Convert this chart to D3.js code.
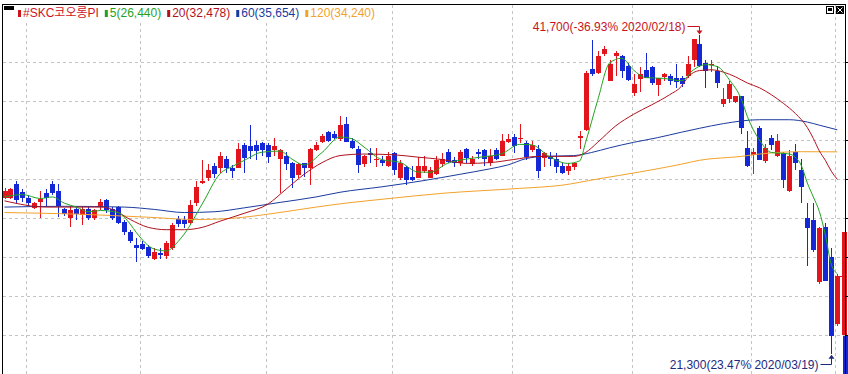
<!DOCTYPE html>
<html>
<head>
<meta charset="utf-8">
<script src="https://cdn.jsdelivr.net/npm/d3@7/dist/d3.min.js"></script>
<style>
  html, body { margin: 0; padding: 0; background: #fff; }
  svg { display: block; }
  text { font-family: "Liberation Sans", "Noto Sans CJK KR", sans-serif; }
</style>
</head>
<body>
<svg id="chart" width="848" height="374"></svg>
<script>
// daily candles, 2019/08/27 .. 2020/03/20
const open = [31300,31250,32200,31650,31300,30600,31000,31600,32200,31750,30600,30000,30600,30150,30550,30000,30700,31150,30600,30700,
  29750,29100,28250,28350,28150,27400,27750,27550,28100,29950,29900,29700,31000,32250,32600,33350,33200,33800,33200,33250,
  34650,34600,34650,34800,34650,34350,33800,33950,33500,32750,33500,33200,34400,34850,35500,35400,35050,36050,34950,34450,
  33450,34150,33750,33700,33350,34150,32550,33250,32650,32600,33050,32600,32850,33500,34200,33700,33500,34400,33500,34200,
  34350,33550,34350,34000,34850,35200,35100,34800,34400,34450,33800,34000,33800,33350,33050,33250,35100,35650,39550,39300,
  40550,38800,40400,40400,39750,38050,38950,39500,39650,38500,39000,39100,39000,39000,39150,40100,41150,39950,39850,39450,
  37350,37650,37400,37800,34500,34000,35800,33650,35100,34000,34150,31750,34200,33050,30000,29850,25900,29450,27500,23200];
const high = [31900,31900,32350,31850,31450,31000,31750,31850,32350,32200,30650,30800,30700,30700,30700,30600,31200,31200,30700,30750,
  29850,29200,28700,28550,28300,28050,28050,28550,29700,30150,30150,31150,32400,33750,33450,33500,34200,33950,33400,34800,
  34800,35950,34950,34900,34800,35100,34450,34200,33600,33550,33550,34500,34900,35400,35600,35550,36550,36450,35100,34600,
  34050,34500,34500,33950,34200,34200,33700,33350,33350,33900,33950,33300,33950,34150,34450,33900,34350,34500,33950,34450,
  34450,34450,34500,35400,35400,35400,36050,34950,34950,34650,34200,34200,34150,33500,33500,33550,35600,39450,41400,40700,
  41050,40100,40700,40450,39950,39250,39650,40550,39750,39000,39300,39250,39900,39100,40400,41500,41700,40150,40100,39750,
  38350,38800,37850,37850,35600,34500,35900,34750,35300,35400,34250,34350,34750,33800,30950,30950,29450,29700,28100,26400];
const low = [31250,31200,30950,31000,30800,30550,30000,30700,31450,30050,30100,29400,29900,29550,29900,29900,30500,30350,29850,29600,
  28900,28400,27150,27950,27450,27300,27400,27350,27950,29450,29350,29550,30800,32150,32400,32550,32900,32900,32550,33200,
  32900,33800,33700,34000,33500,34000,31600,33050,31900,32550,32600,32100,34300,34800,34850,35050,34950,34850,34450,32900,
  33300,33550,33250,33350,33250,32750,32450,32100,32400,32550,32900,32550,32750,33250,33500,33250,33350,33500,33350,33800,
  33350,33350,33750,33950,34800,34150,34800,33700,34200,32550,33250,33350,32900,32850,32750,33100,34450,35600,39100,39250,
  40400,38800,39100,39000,38800,37850,38050,38950,38500,37850,38800,38500,38350,38400,39000,39700,39650,38350,39350,38350,
  37100,37350,37350,35400,33250,32850,33700,33550,34350,33900,31950,31650,33050,30950,26950,27800,25750,25950,21300,23100];
const close = [31750,31850,31150,31250,30950,30950,31200,31250,31600,30800,30300,30500,30300,30550,30000,30500,31050,30500,30000,29650,
  29100,28550,28050,28050,27550,27850,27600,28400,29550,29650,29650,30850,32000,32350,33100,32850,34000,33200,33000,34450,
  33800,34250,34250,34350,33900,34600,34350,33450,32550,33450,33200,34400,34700,35250,34900,35150,35950,34900,34500,33450,
  33950,34000,33800,33500,34000,33050,33500,32400,32450,33350,33350,33100,33750,33800,33550,33500,34200,33800,33800,34050,
  33800,34000,33800,34950,35050,34650,35150,33900,34700,33050,34150,33800,33300,32900,33350,33500,35250,39300,39250,40400,
  40850,39900,40600,39450,38850,38600,39250,39000,38600,38950,39200,38800,38750,38600,39900,41450,39750,39450,39900,38700,
  37650,38600,37800,35750,33350,34200,33750,34500,34650,34950,32400,34000,33500,31950,29350,27950,29350,26000,22450,26300];

// moving averages: [candle index, price]
const ma5 = [[0,31350],[3,31500],[6,31250],[8,31350],[10,30950],[12,30700],[14,30400],[16,30480],[19,30340],[21,29600],
  [22,29070],[25,28010],[27,27890],[29,28500],[30,28970],[33,30900],[36,32850],[38,33300],[40,33690],[43,34220],
  [46,34290],[48,33770],[50,33400],[53,34200],[56,35190],[58,35080],[60,34550],[63,33740],[66,33570],[69,32950],
  [71,32930],[74,33510],[77,33770],[80,33930],[83,34120],[86,34720],[88,34690],[91,33920],[94,33500],[96,33660],
  [97,34860],[99,37540],[101,39940],[103,40240],[105,39480],[107,39000],[110,38950],[113,38800],[115,39500],[117,39830],
  [119,39700],[121,38850],[123,37600],[124,36500],[126,35000],[128,34200],[131,34100],[132,33900],[133,33360],[134,32240],
  [135,31350],[136,30420],[137,28920],[138,27020],[139,26440]];
const ma20 = [[0,31100],[7,30700],[16,30700],[18,30550],[21,29900],[24,29400],[27,29250],[30,29250],[33,29400],[36,29800],
  [40,30300],[44,30900],[47,31850],[50,32800],[53,33550],[56,34000],[60,34100],[65,34050],[69,33900],[73,33750],
  [77,33500],[81,33550],[85,33750],[89,33950],[95,33950],[97,34200],[99,34850],[102,35900],[105,36650],[108,37250],
  [111,37900],[113,38450],[114,39000],[116,39450],[118,39500],[120,39350],[122,39050],[124,38650],[126,38350],[128,37900],
  [130,37350],[132,36700],[134,35800],[135,35100],[136,34300],[137,33700],[138,33000],[139,32478]];
const ma60 = [[0,30700],[10,30750],[20,30700],[25,30550],[30,30350],[35,30400],[40,30650],[46,31000],[52,31350],[56,31650],
  [63,32000],[70,32400],[76,32800],[81,33150],[84,33400],[87,33800],[90,33950],[95,34000],[98,34200],[101,34500],
  [105,34850],[109,35150],[113,35500],[116,35750],[120,36050],[126,36300],[131,36300],[134,36150],[136,35950],[139,35654]];
const ma120 = [[0,30350],[12,30250],[24,30050],[32,29900],[38,29980],[45,30300],[52,30700],[58,31000],[63,31200],[73,31580],
  [86,31900],[93,32100],[99,32500],[106,32950],[113,33450],[116,33700],[123,33950],[126,34100],[133,34250],[139,34240]];

const priceTicks = [22500, 25000, 27500, 30000, 32500, 35000, 37500, 40000];
const monthStarts = [4, 23, 44, 65, 85, 105, 125, 139];   // 9/2, 10/1, 11/1, 12/2, 1/2, 2/3, 3/2, last
const stockName = "#SKC코오롱PI";
const maPeriods = [5, 20, 60, 120];
const maLast = [26440, 32478, 35654, 34240];
const hiMark = { idx: 116, price: 41700, pct: "-36.93%", date: "2020/02/18" };
const loMark = { idx: 138, price: 21300, pct: "23.47%", date: "2020/03/19" };
const sideUp = [22500, 29100];
const sideDown = [19500, 22500];
const lastPrice = 26300;

const RED = "#e2141c", BLUE = "#1428d6";
const maColors = ["#1fa31f", "#b0121e", "#1b3a9e", "#f2a22c"];

const svg = d3.select("#chart");
const x = d3.scaleLinear().domain([0, 139]).range([4.5, 837.3]);
const y = d3.scaleLinear().domain([22500, 40000]).range([335, 62]);
const fmt = d3.format(",");

const plot = svg.append("g");

// grid
plot.selectAll(".hg").data(priceTicks).join("line")
  .attr("x1", 3).attr("x2", 845)
  .attr("y1", d => Math.round(y(d)) + 0.5).attr("y2", d => Math.round(y(d)) + 0.5)
  .attr("stroke", "#c4c4c4").attr("stroke-dasharray", "3,3");
plot.selectAll(".vg").data(monthStarts).join("line")
  .attr("x1", d => Math.round(x(d)) - 1.5).attr("x2", d => Math.round(x(d)) - 1.5)
  .attr("y1", 5).attr("y2", 374)
  .attr("stroke", "#c4c4c4").attr("stroke-dasharray", "3,3");

// candles
const idx = d3.range(open.length);
const cg = plot.append("g").attr("shape-rendering", "crispEdges");
cg.selectAll("line").data(idx).join("line")
  .attr("x1", i => Math.round(x(i)) + 0.5).attr("x2", i => Math.round(x(i)) + 0.5)
  .attr("y1", i => y(high[i])).attr("y2", i => y(low[i]))
  .attr("stroke", i => close[i] >= open[i] ? RED : BLUE);
cg.selectAll("rect").data(idx).join("rect")
  .attr("x", i => Math.round(x(i)) - 2)
  .attr("width", 5)
  .attr("y", i => Math.round(y(Math.max(open[i], close[i]))))
  .attr("height", i => Math.max(1, Math.round(Math.abs(y(open[i]) - y(close[i])))))
  .attr("fill", i => close[i] >= open[i] ? RED : BLUE);

// moving averages
const line = d3.line().x(d => x(d[0])).y(d => y(d[1])).curve(d3.curveMonotoneX);
[ma120, ma60, ma20, ma5].forEach((s, k) => {
  plot.append("path").datum(s)
    .attr("fill", "none").attr("stroke", maColors[3 - k]).attr("stroke-width", 1)
    .attr("d", line);
});

// right edge bars
const sg = svg.append("g").attr("shape-rendering", "crispEdges");
sg.append("rect").attr("x", 842).attr("width", 5)
  .attr("y", y(sideUp[1])).attr("height", y(sideUp[0]) - y(sideUp[1])).attr("fill", RED);
sg.append("rect").attr("x", 843).attr("width", 5)
  .attr("y", y(sideDown[1]) + 1).attr("height", y(sideDown[0]) - y(sideDown[1])).attr("fill", BLUE);
sg.append("line").attr("x1", 838).attr("x2", 846)
  .attr("y1", Math.round(y(lastPrice)) + 0.5).attr("y2", Math.round(y(lastPrice)) + 0.5)
  .attr("stroke", RED);

// frame + right axis ticks
svg.append("rect").attr("x", 2.5).attr("y", 4.5).attr("width", 843).attr("height", 380)
  .attr("fill", "none").attr("stroke", "#000");
svg.selectAll(".rt").data(priceTicks).join("line")
  .attr("x1", 845).attr("x2", 848)
  .attr("y1", d => Math.round(y(d)) + 0.5).attr("y2", d => Math.round(y(d)) + 0.5)
  .attr("stroke", "#000");

// legend
svg.append("rect").attr("x", 3).attr("y", 5).attr("width", 382).attr("height", 15).attr("fill", "#fff");
svg.append("rect").attr("x", 4).attr("y", 6).attr("width", 10).attr("height", 4).attr("fill", "#000");
const legend = [{ t: stockName, c: "#d0141e" }].concat(
  maPeriods.map((p, k) => ({ t: p + "(" + fmt(maLast[k]) + ")", c: maColors[k] })));
let lx = 18;
legend.forEach(it => {
  svg.append("rect").attr("x", lx).attr("y", 10).attr("width", 3).attr("height", 7).attr("fill", it.c);
  const t = svg.append("text").attr("x", lx + 5).attr("y", 17)
    .attr("font-size", 12).attr("fill", it.c).text(it.t);
  lx += 5 + t.node().getComputedTextLength() + 6;
});

// window icons top right
svg.append("rect").attr("x", 826.5).attr("y", 6.5).attr("width", 7).attr("height", 7)
  .attr("fill", "#fff").attr("stroke", "#000");
svg.append("rect").attr("x", 828).attr("y", 8).attr("width", 4).attr("height", 3).attr("fill", "#000");
svg.append("rect").attr("x", 836).attr("y", 6).attr("width", 8).attr("height", 8).attr("fill", "#000");
svg.append("path").attr("d", "M837.5,7.5L842.5,12.5M842.5,7.5L837.5,12.5").attr("stroke", "#fff");

// high / low markers
const hx = Math.round(x(hiMark.idx)) + 0.5;
svg.append("text").attr("x", hx - 14).attr("y", 31).attr("text-anchor", "end")
  .attr("font-size", 12).attr("fill", "#c8141e")
  .text(fmt(hiMark.price) + "(" + hiMark.pct + " " + hiMark.date + ")");
svg.append("path").attr("d", `M${hx - 12},26.5H${hx}V${y(hiMark.price) - 4}`)
  .attr("fill", "none").attr("stroke", "#c8141e");
svg.append("path").attr("d", `M${hx - 3},${y(hiMark.price) - 5}h6l-3,4z`).attr("fill", "#c8141e");

const lxm = Math.round(x(loMark.idx)) + 0.5;
svg.append("text").attr("x", lxm - 13).attr("y", 369).attr("text-anchor", "end")
  .attr("font-size", 12).attr("fill", "#1c2a80")
  .text(fmt(loMark.price) + "(" + loMark.pct + " " + loMark.date + ")");
svg.append("path").attr("d", `M${lxm - 11},364.5H${lxm}V${y(loMark.price) + 4}`)
  .attr("fill", "none").attr("stroke", "#1c2a80");
svg.append("path").attr("d", `M${lxm - 3},${y(loMark.price) + 5}h6l-3,-4z`).attr("fill", "#1c2a80");
</script>
</body>
</html>
